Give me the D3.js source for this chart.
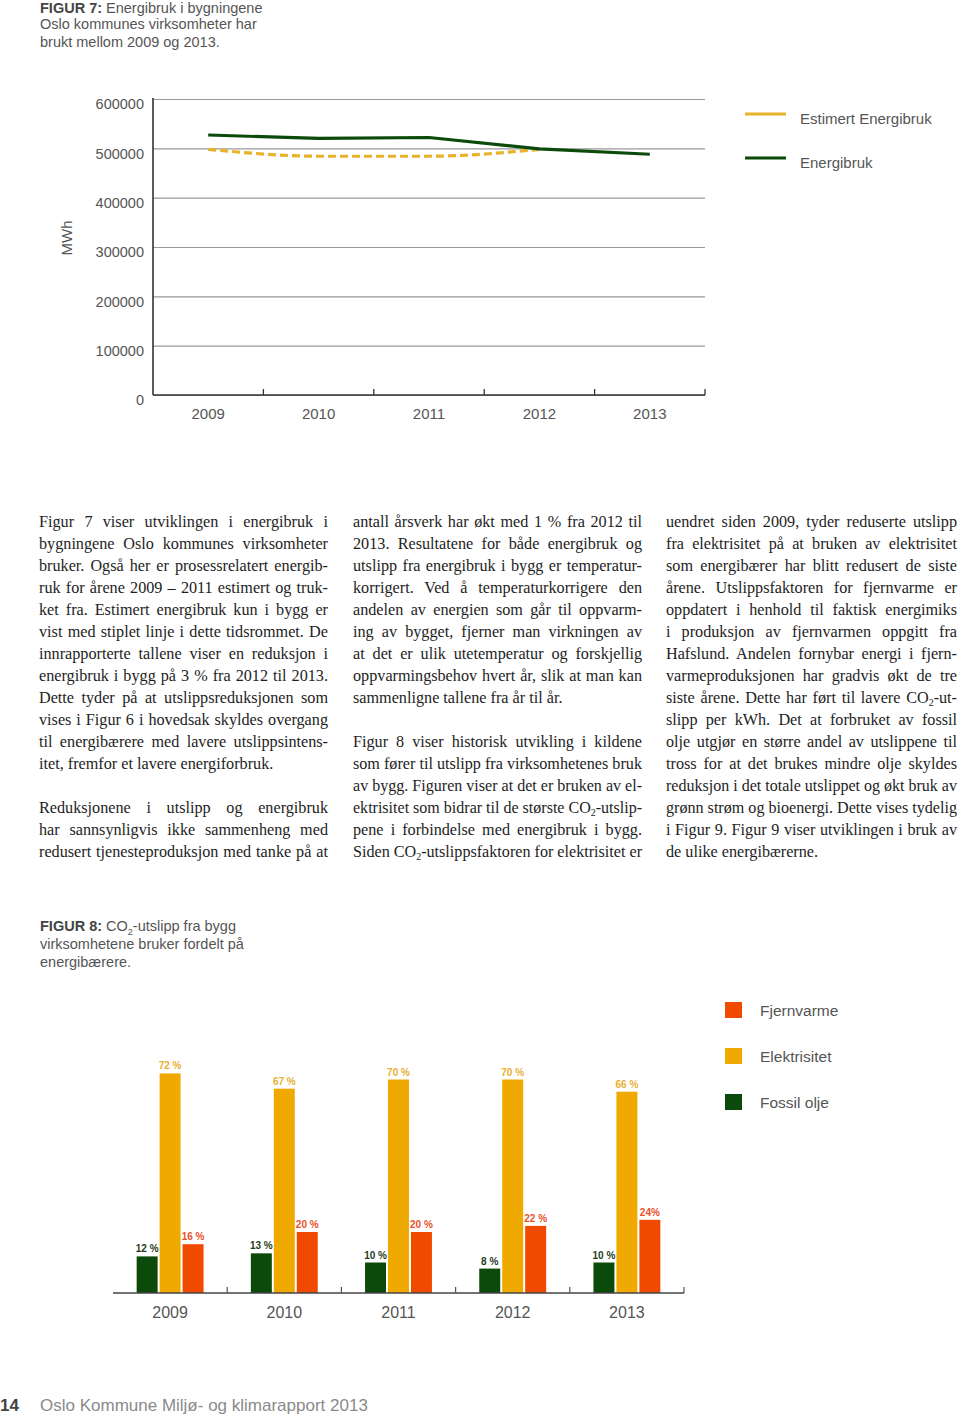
<!DOCTYPE html>
<html>
<head>
<meta charset="utf-8">
<script src="https://cdn.jsdelivr.net/npm/d3@7"></script>
<style>
  body { margin: 0; background: #fff; }
  #page { position: relative; width: 960px; height: 1417px; overflow: hidden; }
  svg { position: absolute; left: 0; top: 0; }
  .line { position: absolute; font-family: "Liberation Serif", "Times New Roman", serif; font-size: 16.2px;
          line-height: 22px; height: 22px; color: #1e1e1e; white-space: nowrap; transform-origin: 0 50%; }
  .line.j { text-align: justify; text-align-last: justify; }
  .line sub { font-size: 10px; vertical-align: -3px; line-height: 0; }
</style>
</head>
<body>
<div id="page"></div>
<script>
// Figur 7 data
const years = ["2009", "2010", "2011", "2012", "2013"];
const energibruk = [527000, 520000, 522000, 499000, 488000];
const estimertYears = ["2009", "2010", "2011", "2012"];
const estimert = [498000, 484000, 484000, 498000];
const yTicks = [0, 100000, 200000, 300000, 400000, 500000, 600000];

// Figur 8 data
const barYears = ["2009", "2010", "2011", "2012", "2013"];
const carriers = ["Fossil olje", "Elektrisitet", "Fjernvarme"];
const fossil = [12, 13, 10, 8, 10];
const elektrisitet = [72, 67, 70, 70, 66];
const fjernvarme = [16, 20, 20, 22, 24];
const fjernLabels = ["16 %", "20 %", "20 %", "22 %", "24%"];

// body text, one entry per printed line ("" = blank line)
const col1 = [
  "Figur 7 viser utviklingen i energibruk i",
  "bygningene Oslo kommunes virksomheter",
  "bruker. Også her er prosessrelatert energib-",
  "ruk for årene 2009 – 2011 estimert og truk-",
  "ket fra. Estimert energibruk kun i bygg er",
  "vist med stiplet linje i dette tidsrommet. De",
  "innrapporterte tallene viser en reduksjon i",
  "energibruk i bygg på 3 % fra 2012 til 2013.",
  "Dette tyder på at utslippsreduksjonen som",
  "vises i Figur 6 i hovedsak skyldes overgang",
  "til energibærere med lavere utslippsintens-",
  "itet, fremfor et lavere energiforbruk.",
  "",
  "Reduksjonene i utslipp og energibruk",
  "har sannsynligvis ikke sammenheng med",
  "redusert tjenesteproduksjon med tanke på at"
];
const col2 = [
  "antall årsverk har økt med 1 % fra 2012 til",
  "2013. Resultatene for både energibruk og",
  "utslipp fra energibruk i bygg er temperatur-",
  "korrigert. Ved å temperaturkorrigere den",
  "andelen av energien som går til oppvarm-",
  "ing av bygget, fjerner man virkningen av",
  "at det er ulik utetemperatur og forskjellig",
  "oppvarmingsbehov hvert år, slik at man kan",
  "sammenligne tallene fra år til år.",
  "",
  "Figur 8 viser historisk utvikling i kildene",
  "som fører til utslipp fra virksomhetenes bruk",
  "av bygg. Figuren viser at det er bruken av el-",
  "ektrisitet som bidrar til de største CO_2-utslip-",
  "pene i forbindelse med energibruk i bygg.",
  "Siden CO_2-utslippsfaktoren for elektrisitet er"
];
const col3 = [
  "uendret siden 2009, tyder reduserte utslipp",
  "fra elektrisitet på at bruken av elektrisitet",
  "som energibærer har blitt redusert de siste",
  "årene. Utslippsfaktoren for fjernvarme er",
  "oppdatert i henhold til faktisk energimiks",
  "i produksjon av fjernvarmen oppgitt fra",
  "Hafslund. Andelen fornybar energi i fjern-",
  "varmeproduksjonen har gradvis økt de tre",
  "siste årene. Dette har ført til lavere CO_2-ut-",
  "slipp per kWh. Det at forbruket av fossil",
  "olje utgjør en større andel av utslippene til",
  "tross for at det brukes mindre olje skyldes",
  "reduksjon i det totale utslippet og økt bruk av",
  "grønn strøm og bioenergi. Dette vises tydelig",
  "i Figur 9. Figur 9 viser utviklingen i bruk av",
  "de ulike energibærerne."
];

const sans = "'Liberation Sans', Arial, Helvetica, sans-serif";
const grey = "#555";
const green = "#0b4a0b", gold = "#f0a900", red = "#f04a00", dash = "#e8b22a";

const page = d3.select("#page");
const svg = page.append("svg").attr("width", 960).attr("height", 1417)
  .style("font-family", sans);

// ---------- titles ----------
function caption(x, ys, bold, lines) {
  const t = svg.append("text").attr("font-size", 14.5).attr("fill", grey);
  lines.forEach((ln, i) => {
    const row = t.append("tspan").attr("x", x).attr("y", ys[i]);
    if (i === 0) row.append("tspan").attr("font-weight", "bold").attr("fill", "#444").text(bold + " ");
    ln.split("_2").forEach((part, k) => {
      if (k > 0) {
        row.append("tspan").attr("font-size", 9).attr("dy", 4).text("2");
        row.append("tspan").attr("dy", -4).text(part);
      } else {
        row.append("tspan").text(part);
      }
    });
  });
}
caption(40, [13, 29, 47], "FIGUR 7:", ["Energibruk i bygningene", "Oslo kommunes virksomheter har", "brukt mellom 2009 og 2013."]);
caption(40, [931, 949, 967], "FIGUR 8:", ["CO_2-utslipp fra bygg", "virksomhetene bruker fordelt på", "energibærere."]);

// ---------- Figur 7: line chart ----------
const x = d3.scaleBand().domain(years).range([153, 705]);
const y = d3.scaleLinear().domain([0, 600000]).range([395, 99]);

const yAxis = svg.append("g").attr("transform", "translate(153,0)")
  .call(d3.axisLeft(y).tickValues(yTicks).tickSize(-(705 - 153)).tickPadding(9).tickFormat(d3.format("d")));
yAxis.select(".domain").remove();
yAxis.selectAll(".tick line").attr("stroke", "#9a9a9a").attr("stroke-width", 1.2);
yAxis.selectAll(".tick text").attr("font-size", 14.5).attr("fill", grey)
  .attr("font-family", sans).attr("dy", "0.68em");

svg.append("line").attr("x1", 153).attr("x2", 153).attr("y1", y(600000) - 1).attr("y2", y(0))
  .attr("stroke", "#333").attr("stroke-width", 1.6);
svg.append("line").attr("x1", 153).attr("x2", 705).attr("y1", y(0)).attr("y2", y(0))
  .attr("stroke", "#333").attr("stroke-width", 1.6);

const xEdges = years.map(d => x(d)).concat([x.range()[1]]);
svg.append("g").selectAll("line").data(xEdges.slice(1)).join("line")
  .attr("x1", d => d).attr("x2", d => d).attr("y1", y(0) - 6).attr("y2", y(0))
  .attr("stroke", "#333").attr("stroke-width", 1.3);

svg.append("g").selectAll("text").data(years).join("text")
  .attr("x", d => x(d) + x.bandwidth() / 2).attr("y", 419)
  .attr("text-anchor", "middle").attr("font-size", 15).attr("fill", grey).text(d => d);

svg.append("text").attr("transform", "translate(72,238) rotate(-90)")
  .attr("text-anchor", "middle").attr("font-size", 15).attr("fill", grey).text("MWh");

const cx = d => x(d) + x.bandwidth() / 2;
const estLine = d3.line().x((d, i) => cx(estimertYears[i])).y(d => y(d)).curve(d3.curveMonotoneX);
const eLine = d3.line().x((d, i) => cx(years[i])).y(d => y(d));

svg.append("path").attr("d", estLine(estimert)).attr("fill", "none")
  .attr("stroke", dash).attr("stroke-width", 3.2).attr("stroke-dasharray", "8,4");
svg.append("path").attr("d", eLine(energibruk)).attr("fill", "none")
  .attr("stroke", green).attr("stroke-width", 3.2);

// legend
const lineLegend = [["Estimert Energibruk", dash], ["Energibruk", green]];
lineLegend.forEach(([name, c], i) => {
  const ly = 114 + i * 44;
  svg.append("line").attr("x1", 745).attr("x2", 786).attr("y1", ly).attr("y2", ly)
    .attr("stroke", c).attr("stroke-width", 3);
  svg.append("text").attr("x", 800).attr("y", ly + 10).attr("font-size", 15).attr("fill", grey).text(name);
});

// ---------- body text ----------
[[col1, 39], [col2, 353], [col3, 666]].forEach(([lines, left], ci) => {
  const w = ci === 2 ? 291 : 289;
  lines.forEach((ln, i) => {
    if (ln === "") return;
    const next = lines[i + 1];
    const justify = !(next === "" || (ci === 2 && i === lines.length - 1));
    const div = page.append("div").attr("class", "line" + (justify ? " j" : ""))
      .style("left", left + "px").style("top", (511 + i * 22) + "px")
      .style("width", w + "px");
    const span = div.append("span").html(ln.replace(/CO_2/g, "CO<sub>2</sub>"));
    // squeeze lines whose natural width is too wide for the column
    const natural = span.node().getBoundingClientRect().width;
    if (natural > w) div.style("transform", `scaleX(${w / natural})`).style("width", natural + "px");
    span.node().outerHTML = span.html();
  });
});

// ---------- Figur 8: grouped bars ----------
const xb = d3.scaleBand().domain(barYears).range([113, 684]);
const xi = d3.scaleBand().domain(carriers).range([0, xb.bandwidth()]).paddingInner(0.087).paddingOuter(1.03);
const yb = d3.scaleLinear().domain([0, 100]).range([1293, 988]);

const barData = barYears.map((yr, i) => ({
  year: yr,
  vals: [
    { key: "Fossil olje", v: fossil[i], label: fossil[i] + " %", c: green },
    { key: "Elektrisitet", v: elektrisitet[i], label: elektrisitet[i] + " %", c: gold },
    { key: "Fjernvarme", v: fjernvarme[i], label: fjernLabels[i], c: red }
  ]
}));

const grp = svg.append("g").selectAll("g").data(barData).join("g")
  .attr("transform", d => `translate(${xb(d.year)},0)`);
grp.selectAll("rect").data(d => d.vals).join("rect")
  .attr("x", d => xi(d.key)).attr("width", xi.bandwidth())
  .attr("y", d => yb(d.v)).attr("height", d => yb(0) - yb(d.v)).attr("fill", d => d.c);
grp.selectAll("text").data(d => d.vals).join("text")
  .attr("x", d => xi(d.key) + xi.bandwidth() / 2).attr("y", d => yb(d.v) - 4)
  .attr("text-anchor", "middle").attr("font-size", 10).attr("font-weight", "bold")
  .attr("fill", d => d.key === "Elektrisitet" ? "#e8b030" : d.key === "Fjernvarme" ? "#e8502a" : "#1d3d1d")
  .text(d => d.label);

svg.append("line").attr("x1", 113).attr("x2", 684).attr("y1", yb(0)).attr("y2", yb(0))
  .attr("stroke", "#444").attr("stroke-width", 1.6);
svg.append("g").selectAll("line").data(barYears.slice(1).map(d => xb(d)).concat([684])).join("line")
  .attr("x1", d => d).attr("x2", d => d).attr("y1", yb(0) - 6).attr("y2", yb(0))
  .attr("stroke", "#555").attr("stroke-width", 1.2);
svg.append("g").selectAll("text").data(barYears).join("text")
  .attr("x", d => xb(d) + xb.bandwidth() / 2).attr("y", 1318)
  .attr("text-anchor", "middle").attr("font-size", 16).attr("fill", grey).text(d => d);

// legend, top to bottom
[["Fjernvarme", red], ["Elektrisitet", gold], ["Fossil olje", green]].forEach(([name, c], i) => {
  const ly = 1002 + i * 46;
  svg.append("rect").attr("x", 725).attr("y", ly).attr("width", 17).attr("height", 16).attr("fill", c);
  svg.append("text").attr("x", 760).attr("y", ly + 14).attr("font-size", 15.5).attr("fill", grey).text(name);
});

// ---------- footer ----------
svg.append("text").attr("x", 0).attr("y", 1411).attr("font-size", 17).attr("font-weight", "bold")
  .attr("fill", "#444").text("14");
svg.append("text").attr("x", 40).attr("y", 1411).attr("font-size", 17).attr("fill", "#8a8a8a")
  .text("Oslo Kommune Miljø- og klimarapport 2013");
</script>
</body>
</html>
